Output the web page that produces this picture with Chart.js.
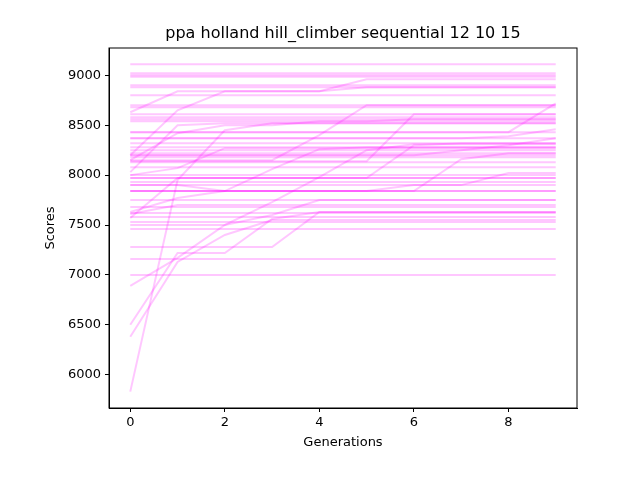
<!DOCTYPE html>
<html>
<head>
<meta charset="utf-8">
<script src="https://cdn.jsdelivr.net/npm/chart.js@4/dist/chart.umd.min.js"></script>
<style>body{margin:0;background:#fff}</style>
</head>
<body>
<canvas id="myChart" width="640" height="480" style="width:640px;height:480px"></canvas>
<script>
const generations = [0, 1, 2, 3, 4, 5, 6, 7, 8, 9];
const xTicks = [0, 2, 4, 6, 8];
const yTicks = [6000, 6500, 7000, 7500, 8000, 8500, 9000];
const chartTitle = 'ppa holland hill_climber sequential 12 10 15';
const xTitle = 'Generations';
const yTitle = 'Scores';

// runs that never improved
const flatRuns = [
    [9110,9110,9110,9110,9110,9110,9110,9110,9110,9110],
    [9020,9020,9020,9020,9020,9020,9020,9020,9020,9020],
    [9000,9000,9000,9000,9000,9000,9000,9000,9000,9000],
    [8985,8985,8985,8985,8985,8985,8985,8985,8985,8985],
    [8900,8900,8900,8900,8900,8900,8900,8900,8900,8900],
    [8880,8880,8880,8880,8880,8880,8880,8880,8880,8880],
    [8800,8800,8800,8800,8800,8800,8800,8800,8800,8800],
    [8700,8700,8700,8700,8700,8700,8700,8700,8700,8700],
    [8680,8680,8680,8680,8680,8680,8680,8680,8680,8680],
    [8610,8610,8610,8610,8610,8610,8610,8610,8610,8610],
    [8580,8580,8580,8580,8580,8580,8580,8580,8580,8580],
    [8560,8560,8560,8560,8560,8560,8560,8560,8560,8560],
    [8540,8540,8540,8540,8540,8540,8540,8540,8540,8540],
    [8430,8430,8430,8430,8430,8430,8430,8430,8430,8430],
    [8370,8370,8370,8370,8370,8370,8370,8370,8370,8370],
    [8320,8320,8320,8320,8320,8320,8320,8320,8320,8320],
    [8280,8280,8280,8280,8280,8280,8280,8280,8280,8280],
    [8250,8250,8250,8250,8250,8250,8250,8250,8250,8250],
    [8220,8220,8220,8220,8220,8220,8220,8220,8220,8220],
    [8200,8200,8200,8200,8200,8200,8200,8200,8200,8200],
    [8180,8180,8180,8180,8180,8180,8180,8180,8180,8180],
    [8130,8130,8130,8130,8130,8130,8130,8130,8130,8130],
    [8080,8080,8080,8080,8080,8080,8080,8080,8080,8080],
    [8000,8000,8000,8000,8000,8000,8000,8000,8000,8000],
    [7970,7970,7970,7970,7970,7970,7970,7970,7970,7970],
    [7930,7930,7930,7930,7930,7930,7930,7930,7930,7930],
    [7900,7900,7900,7900,7900,7900,7900,7900,7900,7900],
    [7840,7840,7840,7840,7840,7840,7840,7840,7840,7840],
    [7750,7750,7750,7750,7750,7750,7750,7750,7750,7750],
    [7680,7680,7680,7680,7680,7680,7680,7680,7680,7680],
    [7620,7620,7620,7620,7620,7620,7620,7620,7620,7620],
    [7580,7580,7580,7580,7580,7580,7580,7580,7580,7580],
    [7530,7530,7530,7530,7530,7530,7530,7530,7530,7530],
    [7460,7460,7460,7460,7460,7460,7460,7460,7460,7460],
    [7160,7160,7160,7160,7160,7160,7160,7160,7160,7160],
    [7000,7000,7000,7000,7000,7000,7000,7000,7000,7000]
];

// runs that climbed during the search
const climbRuns = [
    [5830,7950,8450,8520,8520,8520,8520,8520,8520,8520],
    [6380,7130,7400,7550,7550,7550,7550,7550,7550,7550],
    [6500,7220,7220,7560,7630,7630,7630,7630,7630,7630],
    [6890,7170,7500,7600,7750,7750,7750,7750,7750,7750],
    [7280,7280,7280,7280,7630,7630,7630,7630,7630,7630],
    [7610,7700,7700,7700,7700,7700,7700,7700,7700,7700],
    [8630,8840,8840,8840,8840,8960,8960,8960,8960,8960],
    [8200,8650,8840,8840,8840,8880,8880,8880,8880,8880],
    [8030,8500,8520,8520,8520,8520,8520,8520,8520,8520],
    [8150,8420,8500,8500,8540,8540,8560,8560,8560,8560],
    [7630,7770,7840,7840,7840,7840,7840,7840,7840,7840],
    [7570,7970,7970,7970,7970,7970,7970,7970,7970,7970],
    [7900,7900,7840,8060,8260,8280,8280,8280,8280,8280],
    [7500,7500,7500,7730,7980,8250,8310,8310,8310,8310],
    [8150,8150,8150,8150,8400,8700,8700,8700,8700,8700],
    [8140,8140,8140,8140,8140,8140,8610,8610,8610,8610],
    [7970,7970,7970,7970,7970,7970,8300,8320,8320,8320],
    [7840,7840,7840,7840,7840,7840,7840,8160,8220,8220],
    [7840,7840,7840,7840,7840,7840,7900,7900,8020,8020],
    [8430,8430,8430,8430,8430,8430,8430,8430,8430,8720],
    [8370,8370,8370,8370,8370,8370,8370,8370,8390,8460],
    [8200,8200,8200,8200,8200,8200,8200,8250,8300,8370],
    [8000,8070,8270,8270,8270,8270,8270,8270,8270,8270]
];

const allRuns = flatRuns.concat(climbRuns);

const datasets = allRuns.map((run) =>
{
    return {
        data: run.map((v, i) => ({ x: generations[i], y: v })),
        borderColor: 'rgba(255, 0, 255, 0.22)',
        borderWidth: 2,
        pointRadius: 0,
        fill: false,
        tension: 0
    };
});

const font = { family: 'DejaVu Sans', size: 13 };

var ctx = document.getElementById('myChart').getContext('2d');
var myChart = new Chart(ctx, {
    type: 'line',
    data: { datasets: datasets },
    options: {
        responsive: false,
        animation: false,
        layout: { padding: { left: 0, right: 63, top: 48, bottom: 0 } },
        plugins: {
            legend: { display: false },
            tooltip: { enabled: false },
            title: { display: false }
        },
        scales: {
            x: {
                type: 'linear',
                min: -0.45,
                max: 9.45,
                afterBuildTicks: (s) => { s.ticks = xTicks.map((v) => ({ value: v })); },
                afterFit: (s) => { s.height = 72; },
                grid: { drawOnChartArea: false, tickLength: 4, color: '#000' },
                border: { color: '#000', width: 1 },
                ticks: { color: '#000', font: font, maxRotation: 0, padding: 3 },
                title: { display: false }
            },
            y: {
                min: 5666,
                max: 9274,
                afterBuildTicks: (s) => { s.ticks = yTicks.map((v) => ({ value: v })); },
                afterFit: (s) => { s.width = 109; },
                grid: { drawOnChartArea: false, tickLength: 4, color: '#000' },
                border: { color: '#000', width: 1 },
                ticks: { color: '#000', font: font, padding: 4, callback: (v) => String(v) },
                title: { display: false }
            }
        }
    },
    plugins: [{
        id: 'frameAndTitles',
        afterDraw: (chart) =>
        {
            const a = chart.chartArea;
            const c = chart.ctx;
            const midX = (a.left + a.right) / 2;
            const midY = (a.top + a.bottom) / 2;
            c.save();
            c.strokeStyle = '#000';
            c.lineWidth = 1;
            c.strokeRect(a.left, a.top, a.right - a.left, a.bottom - a.top);
            c.fillStyle = '#000';
            c.textAlign = 'center';
            c.textBaseline = 'middle';
            c.font = '16px "DejaVu Sans"';
            c.fillText(chartTitle, midX, 34);
            c.font = '13px "DejaVu Sans"';
            c.fillText(xTitle, midX, 443);
            c.translate(51, midY);
            c.rotate(-Math.PI / 2);
            c.fillText(yTitle, 0, 0);
            c.restore();
        }
    }]
});
</script>
</body>
</html>
